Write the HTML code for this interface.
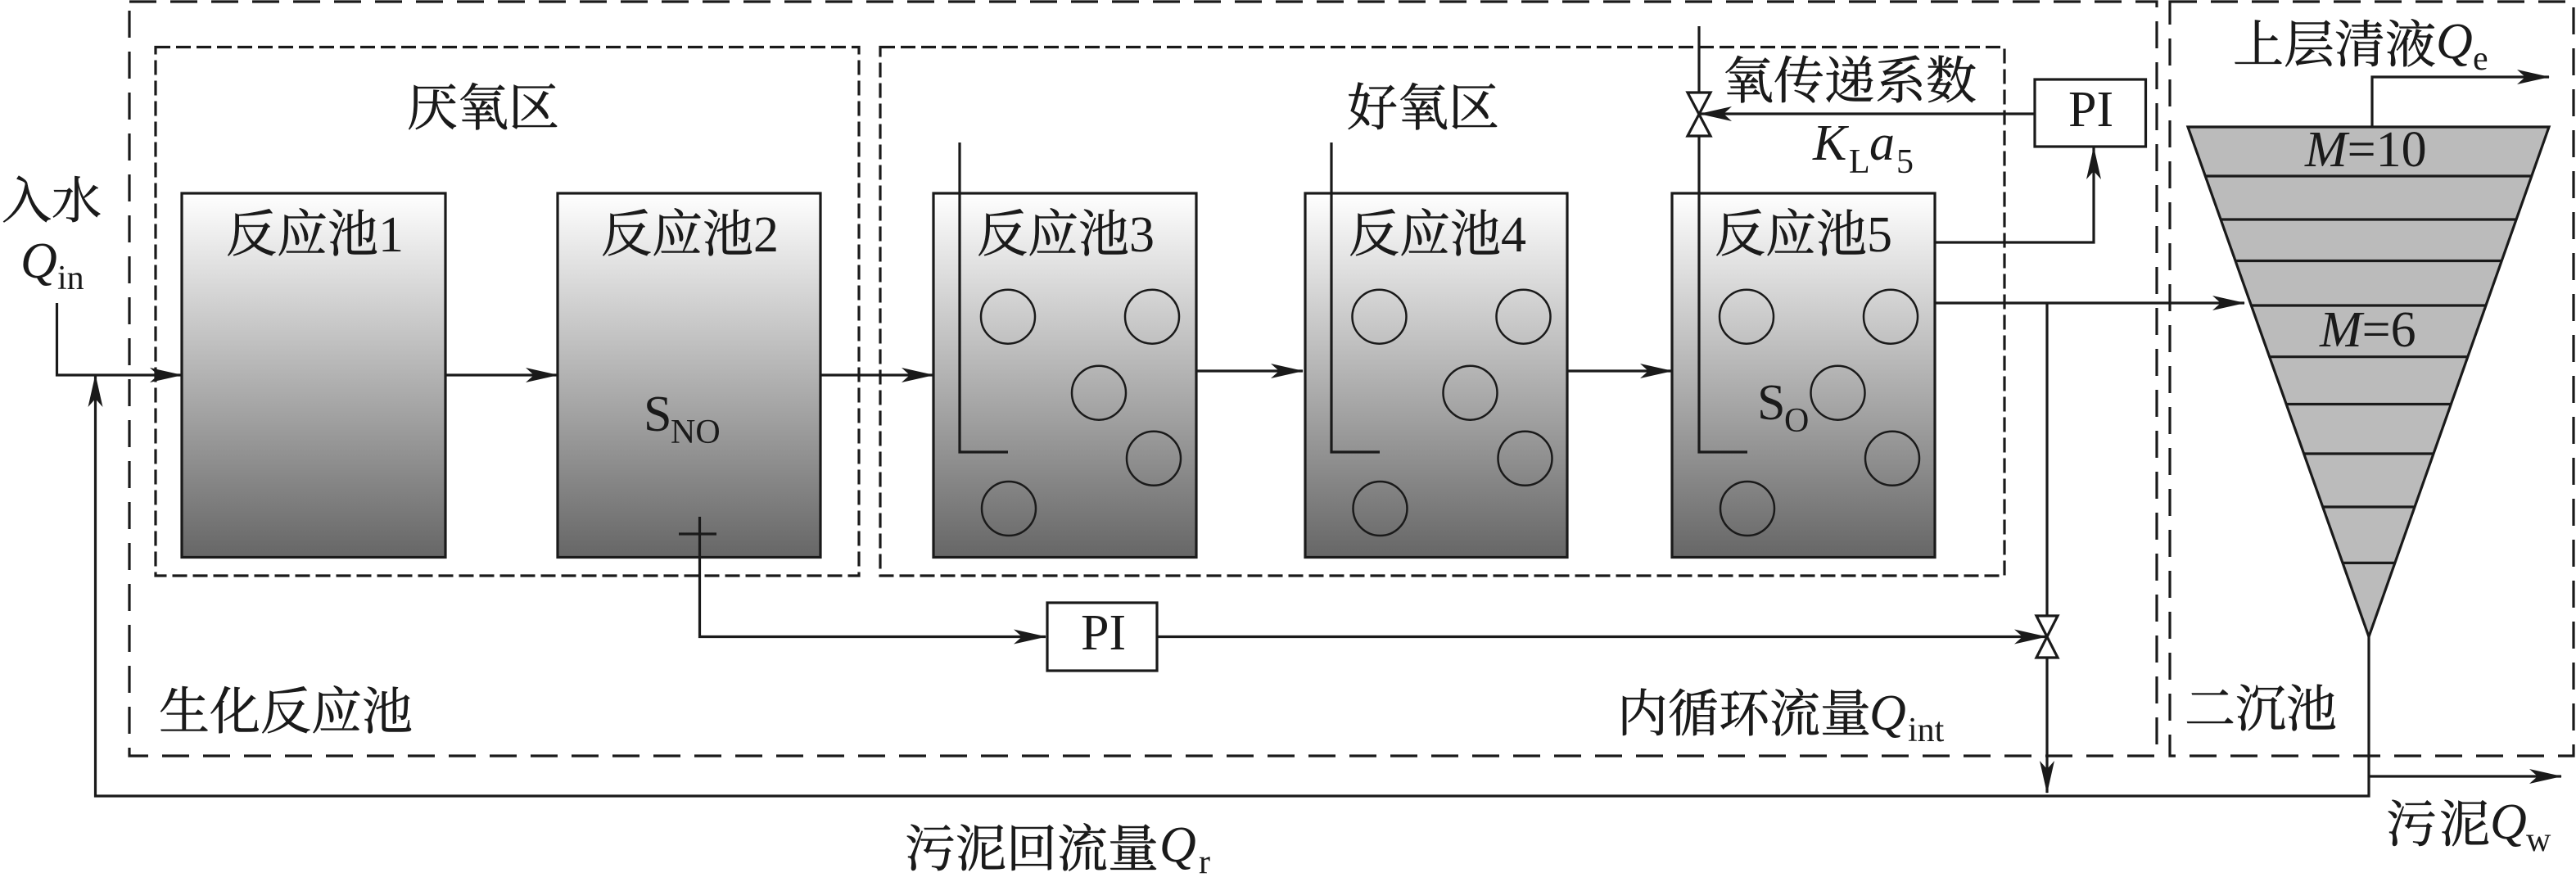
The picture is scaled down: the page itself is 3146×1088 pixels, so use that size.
<!DOCTYPE html>
<html><head><meta charset="utf-8">
<style>
html,body{margin:0;padding:0;background:#fff}
svg{display:block}
text{font-family:"Liberation Serif","Noto Serif CJK SC",serif;font-size:62px;fill:#1a1a1a}
.c{stroke:#1a1a1a;stroke-width:.6}
.i{font-style:italic}
.s{font-size:42px}
.l{stroke:#1a1a1a;stroke-width:3.2;fill:none}
.t{stroke:#1a1a1a;stroke-width:3.2;fill:url(#g)}
.o{stroke:#1a1a1a;stroke-width:3.2;fill:none;stroke-dasharray:33 17}
.n{stroke:#1a1a1a;stroke-width:3.2;fill:none;stroke-dasharray:18 7}
circle{stroke:#1a1a1a;stroke-width:2.5;fill:none}
.w{stroke:#1a1a1a;stroke-width:3.2;fill:#fff}
</style></head><body>
<svg xmlns="http://www.w3.org/2000/svg" width="3146" height="1088" viewBox="0 0 3146 1088">
<defs>
<linearGradient id="g" x1="0" y1="0" x2="0" y2="1"><stop offset="0" stop-color="#fff"/><stop offset="1" stop-color="#666"/></linearGradient>
<marker id="a" markerUnits="userSpaceOnUse" markerWidth="44" markerHeight="24" refX="39" refY="12" orient="auto"><path d="M0,3 L40,12 L0,21 L10,12 z" fill="#1a1a1a"/></marker>
</defs>

<rect class="o" x="158" y="2" width="2476" height="921"/>
<rect class="o" x="2650" y="2" width="493" height="921"/>
<rect class="n" x="190" y="57.5" width="859" height="645.5"/>
<rect class="n" x="1075" y="57.5" width="1373" height="645.5"/>

<rect class="t" x="222" y="236" width="322" height="444.5"/>
<rect class="t" x="681" y="236" width="321" height="444.5"/>
<rect class="t" x="1140" y="236" width="321" height="444.5"/>
<rect class="t" x="1594" y="236" width="320" height="444.5"/>
<rect class="t" x="2042" y="236" width="321" height="444.5"/>

<g><circle cx="1231" cy="386.7" r="33"/><circle cx="1407" cy="386.7" r="33"/><circle cx="1342" cy="479.7" r="33"/><circle cx="1409" cy="559.8" r="33"/><circle cx="1232" cy="621" r="33"/></g>
<g><circle cx="1684.5" cy="386.7" r="33"/><circle cx="1860.5" cy="386.7" r="33"/><circle cx="1795.5" cy="479.7" r="33"/><circle cx="1862.5" cy="559.8" r="33"/><circle cx="1685.5" cy="621" r="33"/></g>
<g><circle cx="2133" cy="386.7" r="33"/><circle cx="2309" cy="386.7" r="33"/><circle cx="2244.5" cy="479.7" r="33"/><circle cx="2311" cy="559.8" r="33"/><circle cx="2134" cy="621" r="33"/></g>

<path class="l" d="M1172,174V552H1231"/>
<path class="l" d="M1626,174V552H1685"/>
<path class="l" d="M2075,32V552H2134"/>

<path class="l" marker-end="url(#a)" d="M69.5,370V458H222"/>
<path class="l" marker-end="url(#a)" d="M2893,777.5V972H116.5V458"/>
<path class="l" marker-end="url(#a)" d="M544,458H681"/>
<path class="l" marker-end="url(#a)" d="M1002,458H1140"/>
<path class="l" marker-end="url(#a)" d="M1461,453H1591"/>
<path class="l" marker-end="url(#a)" d="M1914,453H2042"/>
<path class="l" marker-end="url(#a)" d="M2363,370H2741"/>
<path class="l" marker-end="url(#a)" d="M2500,370V968"/>
<path class="l" marker-end="url(#a)" d="M2363,296H2557V180"/>
<path class="l" marker-end="url(#a)" d="M1413,777.5H2499"/>
<path class="l" marker-end="url(#a)" d="M854.5,631V777.5H1277"/>
<path class="l" d="M829,652H875"/>
<path class="l" marker-end="url(#a)" d="M2897,155V94H3113"/>
<path class="l" marker-end="url(#a)" d="M2893,948H3128"/>

<path class="w" d="M2061,113H2089L2061,166H2089Z"/>
<path class="l" marker-end="url(#a)" d="M2485,139H2076"/>
<path class="w" d="M2487,752H2513L2487,803H2513Z"/>
<rect class="w" x="2485" y="97" width="135.5" height="82"/>
<rect class="w" x="1279" y="736" width="134" height="83"/>

<path d="M2672,155H3113L2893,777.5Z" fill="#bbb" stroke="#1a1a1a" stroke-width="3.2"/>
<path class="l" d="M2694,215H3091M2713,268H3072M2731,318.5H3055M2750,373H3035M2772,435.7H3013M2793,493.5H2993M2814,554H2972M2837,619H2949M2861,687.4H2925"/>

<text class="c" x="2" y="266" style="font-size:61px">入水</text>
<text class="i" x="25" y="339">Q</text><text class="s" x="70" y="353">in</text>
<text class="c" x="497" y="153">厌氧区</text>
<text class="c" x="1645" y="153">好氧区</text>
<text class="c" x="194" y="890">生化反应池</text>
<text class="c" x="276" y="307">反应池<tspan style="stroke:none">1</tspan></text>
<text class="c" x="734" y="307">反应池<tspan style="stroke:none">2</tspan></text>
<text class="c" x="1193" y="307">反应池<tspan style="stroke:none">3</tspan></text>
<text class="c" x="1647" y="307">反应池<tspan style="stroke:none">4</tspan></text>
<text class="c" x="2094" y="307">反应池<tspan style="stroke:none">5</tspan></text>
<text x="786" y="526">S</text><text class="s" x="819" y="541">NO</text>
<text x="2146" y="512">S</text><text class="s" x="2179" y="527">O</text>
<text class="c" x="2104" y="120">氧传递系数</text>
<text class="i" x="2214" y="195">K</text><text class="s" x="2258" y="211">L</text><text class="i" x="2283" y="195">a</text><text class="s" x="2316" y="211">5</text>
<text class="c" x="1975" y="893">内循环流量</text><text class="i" x="2283" y="891">Q</text><text class="s" x="2330" y="905">int</text>
<text class="c" x="1105" y="1058">污泥回流量</text><text class="i" x="1416" y="1052">Q</text><text class="s" x="1464" y="1066">r</text>
<text class="c" x="2727" y="76">上层清液</text><text class="i" x="2975" y="71">Q</text><text class="s" x="3020" y="85">e</text>
<text class="c" x="2668" y="887">二沉池</text>
<text class="c" x="2914" y="1028" style="letter-spacing:3px">污泥</text><text class="i" x="3041" y="1024">Q</text><text class="s" x="3085" y="1039">w</text>
<text x="2815" y="203"><tspan class="i">M</tspan>=10</text>
<text x="2833" y="423"><tspan class="i">M</tspan>=6</text>
<text x="1320" y="793">PI</text>
<text x="2526" y="154">PI</text>
</svg>
</body></html>
